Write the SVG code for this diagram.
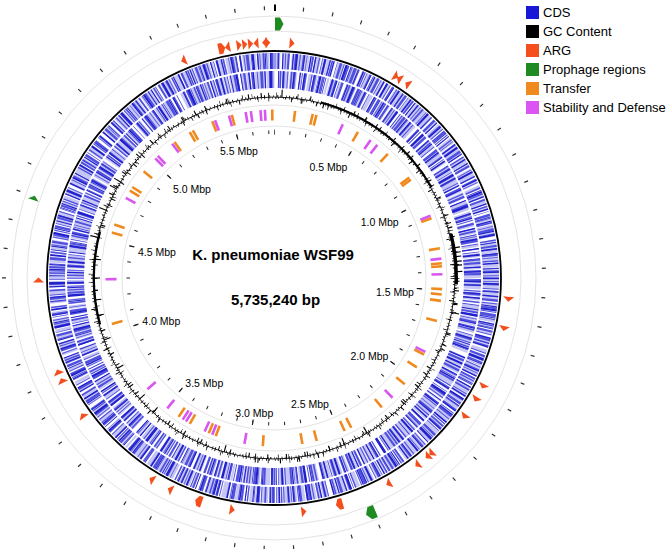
<svg xmlns="http://www.w3.org/2000/svg" width="669" height="549" viewBox="0 0 669 549">
<style>
text{font-family:"Liberation Sans",Arial,Helvetica,sans-serif;fill:#000}
.lbl{font-size:10.5px;text-anchor:middle}
.leg{font-size:13px}
.ttl{font-size:15px;font-weight:bold;text-anchor:middle}
.guide{fill:none;stroke:#e4e4e4;stroke-width:1}
.tr{stroke:#f08a1e;stroke-width:2.6}
.sd{stroke:#d955f0;stroke-width:2.6}
.arg{fill:#f24f1d}
.ph{fill:#1f8a22}
.sp{stroke:#000;stroke-width:1.1}
</style>
<defs>
<polygon id="argCW" points="271.5,37 271.5,48 276.5,42.5"/>
<polygon id="argCCW" points="276.5,37 276.5,48 271.5,42.5"/>
<polygon id="argBig" points="270.5,37 274.5,37 277.5,42.5 274.5,48 270.5,48"/>
<line id="spO" x1="274" y1="97" x2="274" y2="89.5"/>
<line id="spOm" x1="274" y1="97" x2="274" y2="92.5"/>
<line id="spI" x1="274" y1="97" x2="274" y2="104"/>
<line id="spIm" x1="274" y1="97" x2="274" y2="101.5"/>
<line id="bar" x1="274" y1="109.5" x2="274" y2="120.5"/>
</defs>
<rect width="669" height="549" fill="#fff"/>

<g id="guides">
<circle class="guide" cx="274" cy="278" r="262"/>
<circle class="guide" cx="274" cy="278" r="247"/>
<circle class="guide" cx="274" cy="278" r="173"/>
<circle class="guide" cx="274" cy="278" r="152"/>
</g>

<g id="outer-ticks" fill="none" stroke="#333">
<circle cx="274" cy="278" r="270" stroke-width="4" stroke-dasharray="1.2 28.38" stroke-dashoffset="0.6" transform="rotate(-90 274 278)"/>
<line x1="275" y1="4.5" x2="275" y2="11" stroke="#000" stroke-width="2"/>
</g>

<g id="cds" fill="none">
<circle cx="274" cy="278" r="217" stroke="#c6c6f4" stroke-width="16" stroke-dasharray="6 2 3 1.5 9 3 4 2 2 4 7 1 5 2.5 3 6 8 1.5 4 2 6 3 2 1 10 2 5 4 3 2 7 1.5 4 5 6 2 3 1 8 3"/>
<circle cx="274" cy="278" r="217" stroke="#5050de" stroke-width="16" stroke-dasharray="1.2 2 0.8 1.5 2 3 1 1 1.5 4 0.7 2 2.5 1.5 1 3 1.8 2.5 0.9 1.2 3 2 1 5 1.4 1 0.8 2.2 2 1.6 1 3.5 2.6 1.2 0.8 2 1.5 6 1 1.4 2.2 2.8 0.9 1 1.7 3.2 1.1 2 2.4 1.3 0.7 4.5 1.9 1 1.2 2.6"/>
<circle cx="274" cy="278" r="217" stroke="#2020cc" stroke-width="16" stroke-dasharray="1 4 1.5 7 0.8 3 1.2 9 1 2 2 6 0.9 5 1.4 3.5 1 8 1.6 4 0.8 2.5 1.2 11 2.2 3 1 6.5"/>
<circle cx="274" cy="278" r="198.5" stroke="#c6c6f4" stroke-width="17" stroke-dasharray="5 3 2 1 7 2.5 3 4 6 1.5 2 2 9 3 4 1 3 5 6 2 2 1.5 8 4 3 2 5 1 7 3 2 6 4 2 3 1.5" stroke-dashoffset="37"/>
<circle cx="274" cy="278" r="198.5" stroke="#5050de" stroke-width="17" stroke-dasharray="0.9 2.4 1.6 1.2 2.2 3.6 1 1.4 0.8 2 1.9 4.2 1.2 1 2.6 2.2 0.7 3 1.5 1.6 1 5.5 2 1.2 1.1 2.6 0.8 1.8 2.3 3 1.2 1.1 1.7 4 0.9 2.2 2.8 1.5 1 3.3 1.4 1.9 0.8 6.5 1.6 1.2 2.1 2.4" stroke-dashoffset="11"/>
<circle cx="274" cy="278" r="198.5" stroke="#2020cc" stroke-width="17" stroke-dasharray="1.3 5 0.9 3 1.6 8 1 4.5 2 2.5 0.8 7 1.2 3 1.5 10 1 4 2.4 6 0.9 3.5 1.3 9" stroke-dashoffset="23"/>
</g>

<g id="backbone">
<circle cx="274" cy="278" r="227" fill="none" stroke="#000" stroke-width="1.8"/>
</g>

<g id="gc-content" fill="none" stroke="#000">
<circle cx="274" cy="278" r="181" stroke-width="0.9"/>
<circle cx="274" cy="278" r="182" stroke-width="2" stroke-dasharray="0.6 2.5 0.9 3.5 0.5 2 1 4.5 0.7 3 0.5 3.8 0.9 2.2 0.6 5"/>
<circle cx="274" cy="278" r="183.2" stroke-width="4.4" stroke-dasharray="0.7 9 0.5 16 0.9 7 0.6 21 0.8 12 1 26 0.5 8 0.7 14"/>
<circle cx="274" cy="278" r="180" stroke-width="2" stroke-dasharray="0.5 2.8 1 2 0.7 4 0.5 1.6 1 3.2 0.6 2.4 0.8 4.6 0.5 2"/>
<circle cx="274" cy="278" r="178.8" stroke-width="4.4" stroke-dasharray="0.8 13 0.6 8 1 18 0.5 10 0.7 22 0.9 9 0.6 15 1 11"/>
<circle cx="274" cy="278" r="181.9" stroke-width="1.8" stroke-dasharray="143 2000" transform="rotate(-75 274 278)"/>
<circle cx="274" cy="278" r="182.5" stroke-width="3" stroke-dasharray="51 2000" transform="rotate(-14 274 278)"/>
<circle cx="274" cy="278" r="180" stroke-width="2" stroke-dasharray="94 2000" transform="rotate(165 274 278)"/>
<g class="sp">
<use href="#spO" transform="rotate(80.5 274 278)"/><use href="#spO" transform="rotate(82 274 278)"/><use href="#spO" transform="rotate(83.3 274 278)"/><use href="#spO" transform="rotate(84.8 274 278)"/><use href="#spO" transform="rotate(86 274 278)"/><use href="#spO" transform="rotate(88 274 278)"/><use href="#spO" transform="rotate(-58 274 278)"/><use href="#spO" transform="rotate(-60.5 274 278)"/><use href="#spO" transform="rotate(2.5 274 278)"/><use href="#spO" transform="rotate(101 274 278)"/><use href="#spO" transform="rotate(283 274 278)"/><use href="#spO" transform="rotate(292 274 278)"/>
<use href="#spOm" transform="rotate(26 274 278)"/><use href="#spOm" transform="rotate(30 274 278)"/><use href="#spOm" transform="rotate(34 274 278)"/><use href="#spOm" transform="rotate(41 274 278)"/><use href="#spOm" transform="rotate(47 274 278)"/><use href="#spOm" transform="rotate(52 274 278)"/><use href="#spOm" transform="rotate(58 274 278)"/><use href="#spOm" transform="rotate(64 274 278)"/><use href="#spOm" transform="rotate(70 274 278)"/><use href="#spOm" transform="rotate(74 274 278)"/><use href="#spOm" transform="rotate(77 274 278)"/><use href="#spOm" transform="rotate(91 274 278)"/><use href="#spOm" transform="rotate(94 274 278)"/><use href="#spOm" transform="rotate(98 274 278)"/><use href="#spOm" transform="rotate(108 274 278)"/><use href="#spOm" transform="rotate(113 274 278)"/><use href="#spOm" transform="rotate(166 274 278)"/><use href="#spOm" transform="rotate(172 274 278)"/><use href="#spOm" transform="rotate(178 274 278)"/><use href="#spOm" transform="rotate(185 274 278)"/><use href="#spOm" transform="rotate(300 274 278)"/><use href="#spOm" transform="rotate(305 274 278)"/><use href="#spOm" transform="rotate(312 274 278)"/><use href="#spOm" transform="rotate(318 274 278)"/><use href="#spOm" transform="rotate(325 274 278)"/><use href="#spOm" transform="rotate(330 274 278)"/><use href="#spOm" transform="rotate(338 274 278)"/><use href="#spOm" transform="rotate(345 274 278)"/><use href="#spOm" transform="rotate(352 274 278)"/><use href="#spOm" transform="rotate(356 274 278)"/>
<use href="#spI" transform="rotate(157 274 278)"/><use href="#spI" transform="rotate(149 274 278)"/><use href="#spI" transform="rotate(196 274 278)"/><use href="#spI" transform="rotate(240 274 278)"/><use href="#spI" transform="rotate(250 274 278)"/><use href="#spI" transform="rotate(258 274 278)"/><use href="#spI" transform="rotate(263 274 278)"/><use href="#spI" transform="rotate(270 274 278)"/><use href="#spI" transform="rotate(276 274 278)"/><use href="#spI" transform="rotate(228 274 278)"/><use href="#spI" transform="rotate(222 274 278)"/>
<use href="#spIm" transform="rotate(120 274 278)"/><use href="#spIm" transform="rotate(127 274 278)"/><use href="#spIm" transform="rotate(134 274 278)"/><use href="#spIm" transform="rotate(141 274 278)"/><use href="#spIm" transform="rotate(162 274 278)"/><use href="#spIm" transform="rotate(170 274 278)"/><use href="#spIm" transform="rotate(176 274 278)"/><use href="#spIm" transform="rotate(182 274 278)"/><use href="#spIm" transform="rotate(188 274 278)"/><use href="#spIm" transform="rotate(204 274 278)"/><use href="#spIm" transform="rotate(210 274 278)"/><use href="#spIm" transform="rotate(216 274 278)"/><use href="#spIm" transform="rotate(233 274 278)"/><use href="#spIm" transform="rotate(245 274 278)"/><use href="#spIm" transform="rotate(253 274 278)"/><use href="#spIm" transform="rotate(266 274 278)"/><use href="#spIm" transform="rotate(287 274 278)"/><use href="#spIm" transform="rotate(296 274 278)"/><use href="#spIm" transform="rotate(309 274 278)"/><use href="#spIm" transform="rotate(335 274 278)"/><use href="#spIm" transform="rotate(9 274 278)"/><use href="#spIm" transform="rotate(16 274 278)"/>
</g>
</g>

<g id="transfer">
<use class="tr" href="#bar" transform="rotate(-0.6 274 278)"/>
<use class="tr" href="#bar" transform="rotate(-14.5 274 278)"/>
<use class="tr" href="#bar" transform="rotate(-21.5 274 278)"/>
<use class="tr" href="#bar" transform="rotate(-30 274 278)"/>
<use class="tr" href="#bar" transform="rotate(-28.8 274 278)"/>
<use class="tr" href="#bar" transform="rotate(-36.2 274 278)"/>
<use class="tr" href="#bar" transform="rotate(-50.7 274 278)"/>
<use class="tr" href="#bar" transform="rotate(-58.8 274 278)"/>
<use class="tr" href="#bar" transform="rotate(-57.3 274 278)"/>
<use class="tr" href="#bar" transform="rotate(-71.5 274 278)"/>
<use class="tr" href="#bar" transform="rotate(-74.3 274 278)"/>
<use class="tr" href="#bar" transform="rotate(254.2 274 278)"/>
<use class="tr" href="#bar" transform="rotate(214.5 274 278)"/>
<use class="tr" href="#bar" transform="rotate(210 274 278)"/>
<use class="tr" href="#bar" transform="rotate(202.8 274 278)"/>
<use class="tr" href="#bar" transform="rotate(200.2 274 278)"/>
<use class="tr" href="#bar" transform="rotate(183.8 274 278)"/>
<use class="tr" href="#bar" transform="rotate(170.3 274 278)"/>
<use class="tr" href="#bar" transform="rotate(165.3 274 278)"/>
<use class="tr" href="#bar" transform="rotate(155.2 274 278)"/>
<use class="tr" href="#bar" transform="rotate(152.7 274 278)"/>
<use class="tr" href="#bar" transform="rotate(140.2 274 278)"/>
<use class="tr" href="#bar" transform="rotate(129.1 274 278)"/>
<use class="tr" href="#bar" transform="rotate(122 274 278)"/>
<use class="tr" href="#bar" transform="rotate(117 274 278)"/>
<use class="tr" href="#bar" transform="rotate(104.8 274 278)"/>
<use class="tr" href="#bar" transform="rotate(97.8 274 278)"/>
<use class="tr" href="#bar" transform="rotate(95.6 274 278)"/>
<use class="tr" href="#bar" transform="rotate(93.8 274 278)"/>
<use class="tr" href="#bar" transform="rotate(85 274 278)"/>
<use class="tr" href="#bar" transform="rotate(86 274 278)"/>
<use class="tr" href="#bar" transform="rotate(79.8 274 278)"/>
<use class="tr" href="#bar" transform="rotate(69.2 274 278)"/>
<use class="tr" href="#bar" transform="rotate(53.4 274 278)"/>
<use class="tr" href="#bar" transform="rotate(54.3 274 278)"/>
<use class="tr" href="#bar" transform="rotate(42.5 274 278)"/>
<use class="tr" href="#bar" transform="rotate(29.9 274 278)"/>
<use class="tr" href="#bar" transform="rotate(14.6 274 278)"/>
<use class="tr" href="#bar" transform="rotate(13.3 274 278)"/>
<use class="tr" href="#bar" transform="rotate(7.2 274 278)"/>
</g>

<g id="stability-defense">
<use class="sd" href="#bar" transform="rotate(-3.1 274 278)"/>
<use class="sd" href="#bar" transform="rotate(-4.6 274 278)"/>
<use class="sd" href="#bar" transform="rotate(-7.9 274 278)"/>
<use class="sd" href="#bar" transform="rotate(-9.7 274 278)"/>
<use class="sd" href="#bar" transform="rotate(-15.5 274 278)"/>
<use class="sd" href="#bar" transform="rotate(-20.5 274 278)"/>
<use class="sd" href="#bar" transform="rotate(-37.2 274 278)"/>
<use class="sd" href="#bar" transform="rotate(-44.8 274 278)"/>
<use class="sd" href="#bar" transform="rotate(-43.6 274 278)"/>
<use class="sd" href="#bar" transform="rotate(-61.6 274 278)"/>
<use class="sd" href="#bar" transform="rotate(-90.4 274 278)"/>
<use class="sd" href="#bar" transform="rotate(228.7 274 278)"/>
<use class="sd" href="#bar" transform="rotate(219.3 274 278)"/>
<use class="sd" href="#bar" transform="rotate(212.8 274 278)"/>
<use class="sd" href="#bar" transform="rotate(211.5 274 278)"/>
<use class="sd" href="#bar" transform="rotate(204.3 274 278)"/>
<use class="sd" href="#bar" transform="rotate(201.5 274 278)"/>
<use class="sd" href="#bar" transform="rotate(190.1 274 278)"/>
<use class="sd" href="#bar" transform="rotate(135.3 274 278)"/>
<use class="sd" href="#bar" transform="rotate(116 274 278)"/>
<use class="sd" href="#bar" transform="rotate(88.7 274 278)"/>
<use class="sd" href="#bar" transform="rotate(83.4 274 278)"/>
<use class="sd" href="#bar" transform="rotate(68.3 274 278)"/>
<use class="sd" href="#bar" transform="rotate(37.8 274 278)"/>
<use class="sd" href="#bar" transform="rotate(35 274 278)"/>
<use class="sd" href="#bar" transform="rotate(24.1 274 278)"/>
</g>

<g id="arg" class="arg">
<use href="#argBig" transform="rotate(-12.8 274 278)"/>
<use href="#argCCW" transform="rotate(-11.4 274 278)"/>
<use href="#argCW" transform="rotate(-8.5 274 278)"/>
<use href="#argCW" transform="rotate(-7.1 274 278)"/>
<use href="#argCW" transform="rotate(-5.7 274 278)"/>
<use href="#argCCW" transform="rotate(-4.4 274 278)"/>
<use href="#argCW" transform="rotate(-1.5 274 278)"/>
<use href="#argCCW" transform="rotate(-2.3 274 278)"/>
<use href="#argCW" transform="rotate(4.4 274 278)"/>
<use href="#argCCW" transform="rotate(-22.6 274 278)"/>
<use href="#argCW" transform="rotate(31.2 274 278)"/>
<use href="#argCCW" transform="rotate(32.1 274 278)"/>
<use href="#argCCW" transform="rotate(34.5 274 278)"/>
<use href="#argCW" transform="rotate(95.2 274 278)"/>
<use href="#argCW" transform="rotate(102.4 274 278)"/>
<use href="#argCW" transform="rotate(117.4 274 278)"/>
<use href="#argCW" transform="rotate(121 274 278)"/>
<use href="#argCW" transform="rotate(126 274 278)"/>
<use href="#argCW" transform="rotate(138.1 274 278)"/>
<use href="#argCW" transform="rotate(139.3 274 278)"/>
<use href="#argCW" transform="rotate(142.5 274 278)"/>
<use href="#argCW" transform="rotate(150.9 274 278)"/>
<use href="#argBig" transform="rotate(163.9 274 278)"/>
<use href="#argCCW" transform="rotate(172.7 274 278)"/>
<use href="#argCCW" transform="rotate(190.2 274 278)"/>
<use href="#argBig" transform="rotate(198.7 274 278)"/>
<use href="#argCW" transform="rotate(206.2 274 278)"/>
<use href="#argCW" transform="rotate(211.3 274 278)"/>
<use href="#argCW" transform="rotate(234.3 274 278)"/>
<use href="#argCW" transform="rotate(244.2 274 278)"/>
<use href="#argCW" transform="rotate(246.5 274 278)"/>
<use href="#argCW" transform="rotate(269.5 274 278)"/>
</g>

<g id="prophage" class="ph">
<polygon points="275,17.5 280,17.5 283.5,24 280,30.5 275,30.5"/>
<polygon points="269.5,17.5 275.5,17.5 279.5,24 275.5,30.5 269.5,30.5" transform="rotate(157.5 274 278)"/>
<polygon points="272,19.5 272,30.5 276.5,25" transform="rotate(-71.6 274 278)"/>
</g>

<g id="ruler" fill="none" stroke="#222">
<circle cx="274" cy="278" r="145.8" stroke-width="3.5" stroke-dasharray="1 14.973" stroke-dashoffset="0.5" transform="rotate(-90 274 278)"/>
<circle cx="274" cy="278" r="145.8" stroke-width="5.5" stroke-dasharray="1.1 78.766" stroke-dashoffset="0.55" transform="rotate(-90 274 278)"/>
</g>

<g id="ruler-labels">
<text class="lbl" x="328.5" y="170.5">0.5 Mbp</text>
<text class="lbl" x="379.7" y="226">1.0 Mbp</text>
<text class="lbl" x="395" y="295.5">1.5 Mbp</text>
<text class="lbl" x="369.5" y="360">2.0 Mbp</text>
<text class="lbl" x="310" y="408">2.5 Mbp</text>
<text class="lbl" x="254.3" y="417">3.0 Mbp</text>
<text class="lbl" x="204.3" y="387">3.5 Mbp</text>
<text class="lbl" x="161.3" y="325">4.0 Mbp</text>
<text class="lbl" x="157" y="255.5">4.5 Mbp</text>
<text class="lbl" x="192" y="193">5.0 Mbp</text>
<text class="lbl" x="239" y="155">5.5 Mbp</text>
</g>

<g id="title">
<text class="ttl" x="273" y="260">K. pneumoniae WSF99</text>
<text class="ttl" x="275.5" y="305">5,735,240 bp</text>
</g>

<g id="legend">
<rect x="526" y="6" width="13" height="13" fill="#1818d6"/>
<text class="leg" x="543" y="17.3">CDS</text>
<rect x="526" y="25" width="13" height="13" fill="#000"/>
<text class="leg" x="543" y="36.3">GC Content</text>
<rect x="526" y="44" width="13" height="13" fill="#f4501e"/>
<text class="leg" x="543" y="55.3">ARG</text>
<rect x="526" y="63" width="13" height="13" fill="#208a22"/>
<text class="leg" x="543" y="74.3">Prophage regions</text>
<rect x="526" y="82" width="13" height="13" fill="#f08a1e"/>
<text class="leg" x="543" y="93.3">Transfer</text>
<rect x="526" y="101" width="13" height="13" fill="#da55f2"/>
<text class="leg" x="543" y="112.3">Stability and Defense</text>
</g>
</svg>
